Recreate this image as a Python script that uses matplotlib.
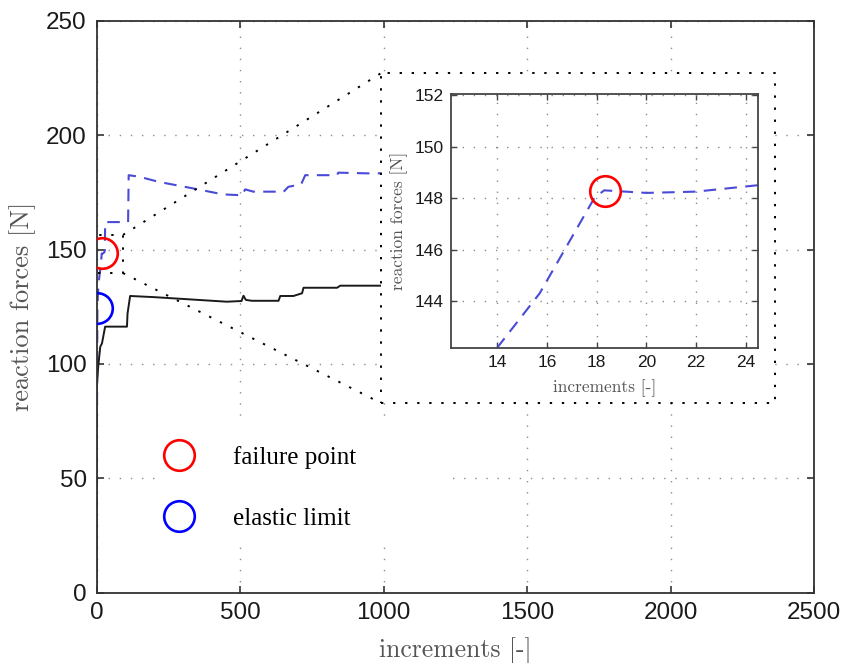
import numpy as np
import matplotlib
matplotlib.use('Agg')
import matplotlib.pyplot as plt
from matplotlib.patches import Rectangle
from matplotlib.lines import Line2D

# reaction force curves (increments, force in N)
inc_dashed = [0, 1, 2, 3, 5, 8, 11, 14, 15.7, 17.9, 18.3, 20, 22, 24.5, 27, 29,
              30, 60, 110, 112, 150, 216, 337, 441, 494, 505, 518, 546, 629,
              650, 668, 699, 712, 727, 838, 842, 943, 1000]
force_dashed = [0, 45, 95, 124, 131, 136, 139.5, 142.2, 144.3, 148.0, 148.3,
                148.2, 148.25, 148.5, 148.8, 149.5, 162, 162, 162, 182.5,
                181.8, 179.6, 176.7, 174.1, 173.8, 173.5, 176.3, 175.3, 175.3,
                175.0, 177.4, 178.2, 178.3, 182.5, 182.5, 183.6, 183.3, 183.3]

inc_solid = [0, 0.5, 2, 6, 13, 19, 25, 30, 106, 108, 117, 200, 454, 505, 512,
             520, 541, 634, 640, 686, 716, 721, 838, 849, 1000]
force_solid = [0, 88, 92, 99, 107.5, 109, 113, 116.3, 116.3, 122, 129.7,
               129.2, 127.2, 127.5, 129.8, 128, 127.6, 127.6, 129.7, 129.7,
               130.9, 133.3, 133.3, 134.2, 134.2]

failure_pt = (18.34, 148.28)
elastic_pt = (0.5, 124.3)

xticks_main = [0, 500, 1000, 1500, 2000, 2500]
yticks_main = [0, 50, 100, 150, 200, 250]
xticks_zoom = [14, 16, 18, 20, 22, 24]
yticks_zoom = [144, 146, 148, 150, 152]

# zoom window in the main axes and the box the inset sits in
win = (-36.6, 92.3, 139.7, 156.4)
box = (991, 2364, 82.9, 227.1)

plt.rcParams['font.family'] = 'Liberation Sans'
blue_line = '#4a4ad8'
grid_kw = dict(color='#8c8c8c', linestyle=(0, (1, 7)), linewidth=1.0)

fig = plt.figure(figsize=(8.46, 6.63), dpi=100)
ax = fig.add_axes([0.1141, 0.106, 0.8483, 0.8627])

ax.plot(inc_dashed, force_dashed, color=blue_line, lw=1.5, dashes=(6, 4), zorder=2)
ax.plot(inc_solid, force_solid, color='#1a1a1a', lw=1.4, zorder=2)

ax.set_xlim(0, 2500)
ax.set_ylim(0, 250)
ax.set_xticks(xticks_main)
ax.set_yticks(yticks_main)
ax.grid(True, **grid_kw)
ax.set_axisbelow(True)
ax.tick_params(direction='in', length=5, width=1.2, top=True, right=True,
               labelsize=17.5, pad=7, colors='#333333', labelcolor='#1a1a1a')
for s in ax.spines.values():
    s.set_color('#333333')
    s.set_linewidth(1.3)

ax.set_xlabel('increments [-]', family='cmr10', fontsize=18.5, color='#555555', labelpad=9)
ax.set_ylabel('reaction forces [N]', family='cmr10', fontsize=19, color='#555555', labelpad=7)

dot_kw = dict(color='black', linestyle=(0, (1.2, 5)), linewidth=1.4)
# white panel behind the inset, bordered with dots
ax.add_patch(Rectangle((box[0], box[2]), box[1] - box[0], box[3] - box[2],
                       facecolor='white', edgecolor='none', zorder=3))
ax.plot([box[0], box[1], box[1], box[0], box[0]],
        [box[2], box[2], box[3], box[3], box[2]], zorder=4, **dot_kw)
ax.plot([win[0], win[1], win[1], win[0], win[0]],
        [win[2], win[2], win[3], win[3], win[2]], zorder=4, **dot_kw)
ax.plot([win[1], box[0]], [win[3], box[3]], zorder=4, **dot_kw)
ax.plot([win[1], box[0]], [win[2], box[2]], zorder=4, **dot_kw)

circ_kw = dict(marker='o', markersize=22, markerfacecolor='none', markeredgewidth=1.9,
               linestyle='none', zorder=6)
ax.plot(*failure_pt, markeredgecolor='#ff0000', **circ_kw)
ax.plot(*elastic_pt, markeredgecolor='#0000ff', **circ_kw)

# legend on a white patch
ax.add_patch(Rectangle((0.082, 0.083), 0.411, 0.214, transform=ax.transAxes,
                       facecolor='white', edgecolor='none', zorder=1))
handles = [Line2D([], [], markeredgecolor='#ff0000', **circ_kw),
           Line2D([], [], markeredgecolor='#0000ff', **circ_kw)]
leg = ax.legend(handles, ['failure point', 'elastic limit'], loc='upper left',
                bbox_to_anchor=(0.049, 0.296), frameon=False, numpoints=1,
                prop={'family': 'Liberation Serif', 'size': 18},
                handlelength=2.0, handletextpad=1.15, labelspacing=1.55)

# inset: close-up around the failure point
axi = fig.add_axes([0.5331, 0.4756, 0.3625, 0.3822], zorder=5)
axi.plot(inc_dashed, force_dashed, color=blue_line, lw=1.5, dashes=(6, 4))
axi.plot(*failure_pt, markeredgecolor='#ff0000', **circ_kw)
axi.set_xlim(12.13, 24.48)
axi.set_ylim(142.19, 152.03)
axi.set_xticks(xticks_zoom)
axi.set_yticks(yticks_zoom)
axi.grid(True, **grid_kw)
axi.set_axisbelow(True)
axi.tick_params(direction='in', length=4, width=1.0, top=True, right=True,
                labelsize=12.5, pad=5, colors='#444444', labelcolor='#1a1a1a')
for s in axi.spines.values():
    s.set_color('#444444')
    s.set_linewidth(1.3)
axi.set_xlabel('increments [-]', family='cmr10', fontsize=12.5, color='#555555', labelpad=7)
axi.set_ylabel('reaction forces [N]', family='cmr10', fontsize=12.5, color='#555555', labelpad=5)

fig.savefig('out.png', dpi=100)
